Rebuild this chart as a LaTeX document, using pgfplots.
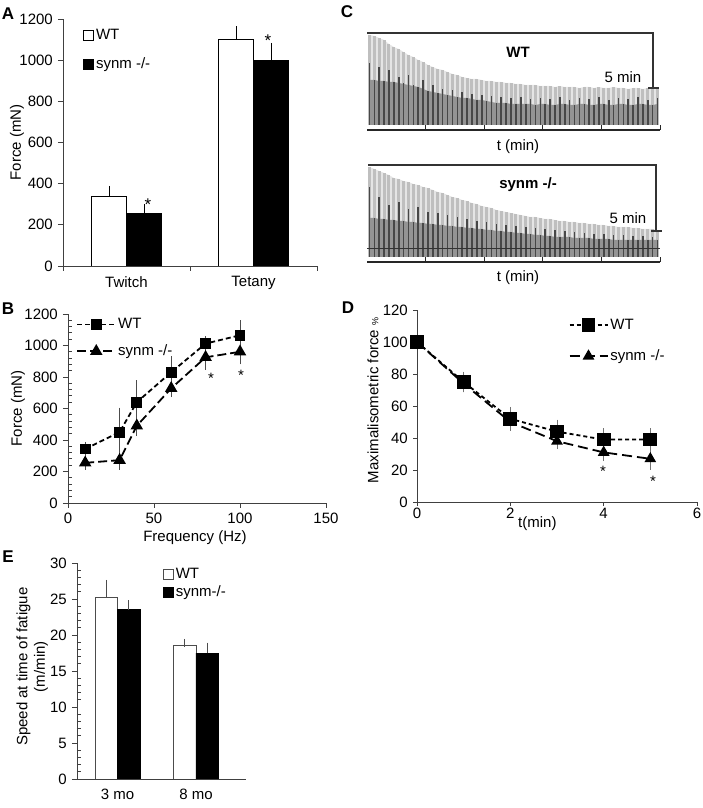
\documentclass[border=0pt]{standalone}
\usepackage{fontspec}
\setmainfont{Liberation Sans}
\usepackage{pgfplots}
\usepackage{pgfplotstable}
\pgfplotsset{compat=1.18}
\newcommand\fs{\fontsize{15}{17.5}\selectfont}

\pgfplotstableread{
k out in base
0 90 62 45
1 89 45 45
2 87 58 44
3 85 44 44
4 81 55 43
5 78 43 43
6 76 48 42
7 73 42 41
8 70 50 40
9 68 40 39
10 65 38 38
11 63 45 36
12 60 34 34
13 58 40 33
14 56 32 32
15 55 36 31
16 53 30 30
17 51 35 29
18 50 28 28
19 48 33 27
20 47 27 27
21 46 31 26
22 46 25 25
23 45 30 25
24 44 24 24
25 44 29 23
26 43 22 22
27 43 28 22
28 42 22 22
29 42 27 21
30 41 21 21
31 41 28 21
32 40 21 21
33 40 26 21
34 40 20 20
35 39 27 21
36 39 21 21
37 39 26 20
38 38 20 20
39 39 28 21
40 38 21 21
41 38 25 20
42 38 20 20
43 37 27 21
44 38 21 21
45 38 26 20
46 37 20 20
47 38 28 21
48 37 21 21
49 37 25 20
50 38 20 20
51 37 27 21
52 37 21 21
53 36 26 20
54 37 20 20
55 37 28 21
56 36 21 21
57 37 25 20
58 37 20 20
59 37 27 21
}\wtdata

\pgfplotstableread{
k out in base
0 90 70 39
1 88 39 39
2 86 60 38
3 84 38 38
4 82 52 37
5 79 37 37
6 78 55 36
7 76 36 36
8 75 48 35
9 73 35 35
10 72 50 34
11 70 34 34
12 69 45 33
13 67 33 33
14 65 44 32
15 64 32 32
16 62 42 31
17 60 31 31
18 59 40 30
19 57 30 30
20 56 38 29
21 54 29 29
22 53 36 28
23 51 28 28
24 50 35 27
25 49 27 27
26 47 33 26
27 46 26 26
28 45 32 25
29 44 25 25
30 43 31 24
31 42 24 24
32 41 30 23
33 40 23 23
34 40 29 22
35 39 22 22
36 38 28 21
37 38 21 21
38 37 27 20
39 36 20 20
40 36 26 20
41 35 20 20
42 35 25 19
43 34 19 19
44 34 24 19
45 33 19 19
46 33 23 18
47 32 18 18
48 32 23 18
49 31 18 18
50 31 22 17
51 30 17 17
52 30 22 17
53 30 17 17
54 29 21 17
55 29 17 17
56 28 21 17
57 28 17 17
58 28 20 17
59 27 17 17
}\kodata

\pgfplotsset{
  every axis/.append style={
    scale only axis, anchor=south west,
    font=\fs,
    /pgf/number format/assume math mode=true,
    /pgf/number format/1000 sep={},
    axis line style={line width=0.9pt, black!75},
    tick style={line width=0.9pt, black!75},
  },
  barleg/.style={legend image code/.code={\draw[##1,line width=0.8pt] (0pt,-5pt) rectangle (10pt,5pt);}},
  lineleg/.style={legend image code/.code={\draw[##1,mark=none] (0pt,0pt) -- (38pt,0pt); \draw[##1,only marks] plot coordinates {(19pt,0pt)};}},
  trace/.style={width=293pt, height=97pt,
    xmin=-0.5, xmax=59.5, ymin=-5, ymax=92,
    axis x line*=bottom, axis y line=none, ytick=\empty,
    xtick={11.5,23.5,35.5,47.5,59.5}, xticklabels={},
    tick align=inside, major tick length=5pt,
    axis line style={line width=1.3pt, black!85},
    tick style={line width=1pt, black!85}, clip=false},
}

\begin{document}
\fs
\begin{tikzpicture}[x=1pt,y=1pt]
\useasboundingbox (0,0) rectangle (702,808);

% ---------------- Panel A
\begin{axis}[at={(63pt,542pt)}, width=254pt, height=247pt,
  ymin=0, ymax=1200, ytick={0,200,...,1200},
  xmin=-0.5, xmax=1.5, xtick={-0.5,0.5,1.5}, x tick label as interval,
  xticklabels={Twitch,Tetany},
  axis x line*=bottom, axis y line*=left,
  tick align=outside, major tick length=5pt,
  ybar=0pt, bar width=35pt,
  ylabel={Force (mN)},
  ylabel style={at={(axis description cs:-0.181,0.5)}, anchor=center},
  barleg,
  legend style={at={(axis description cs:0.067,0.975)}, anchor=north west,
    draw=none, fill=none, row sep=12pt, font=\fs},
  legend cell align=left]
\addplot[fill=white, draw=black, line width=0.8pt,
  error bars/.cd, y dir=plus, y explicit,
  error bar style={line width=0.8pt, black},
  error mark options={mark size=5pt, line width=0.8pt, black}]
  coordinates {(0,340) +- (0,25) (1,1100) +- (0,40)};
\addplot[fill=black, draw=black, line width=0.8pt,
  error bars/.cd, y dir=plus, y explicit,
  error bar style={line width=0.8pt, black},
  error mark options={mark size=5pt, line width=0.8pt, black}]
  coordinates {(0,255) +- (0,22) (1,1000) +- (0,60)};
\legend{WT, synm -/-}
\end{axis}

% ---------------- Panel B
\begin{axis}[at={(68pt,305pt)}, width=258pt, height=189pt,
  xmin=0, xmax=150, xtick={0,50,100,150},
  ymin=0, ymax=1200, ytick={0,200,...,1200}, minor y tick num=4,
  axis x line*=bottom, axis y line*=left,
  tick align=outside, major tick length=5pt, minor tick length=4pt,
  minor y tick style={xshift=4pt},
  xlabel={Frequency (Hz)},
  xlabel style={at={(axis description cs:0.492,-0.185)}, anchor=center},
  ylabel={Force (mN)},
  ylabel style={at={(axis description cs:-0.194,0.5)}, anchor=center},
  lineleg,
  legend style={at={(axis description cs:0.02,1.0)}, anchor=north west,
    draw=none, fill=none, row sep=10pt, font=\fs},
  legend cell align=left]
\addplot[black, line width=1.8pt, dash pattern=on 5pt off 3pt,
  mark=square*, mark size=4.5pt, mark options={solid},
  error bars/.cd, y dir=both, y explicit,
  error bar style={solid, line width=0.8pt, black!70},
  error mark options={solid, mark size=4pt, line width=0.8pt, black!70}]
  coordinates {(10,343) +- (0,20) (30,450) +- (0,130) (40,640) +- (0,115)
               (60,830) +- (0,75) (80,1012) +- (0,20) (100,1065) +- (0,70)};
\addplot[black, line width=1.8pt, dash pattern=on 9pt off 4pt,
  mark=triangle*, mark size=5.5pt, mark options={solid},
  error bars/.cd, y dir=both, y explicit,
  error bar style={solid, line width=0.8pt, black!70},
  error mark options={solid, mark size=4pt, line width=0.8pt, black!70}]
  coordinates {(10,255) +- (0,20) (30,272) +- (0,35) (40,490) +- (0,40)
               (60,728) +- (0,30) (80,925) +- (0,55) (100,960) +- (0,55)};
\legend{WT, synm -/-}
\end{axis}

% ---------------- Panel D
\begin{axis}[at={(417pt,306pt)}, width=280pt, height=192pt,
  xmin=0, xmax=6, xtick={0,2,4,6},
  ymin=0, ymax=120, ytick={0,20,...,120},
  axis x line*=bottom, axis y line*=left,
  tick align=outside, major tick length=4pt,
  xticklabel style={yshift=3pt},
  xlabel={t(min)},
  xlabel style={at={(axis description cs:0.43,-0.112)}, anchor=center},
  ylabel={Maximalisometric force {\small\%}},
  ylabel style={at={(axis description cs:-0.157,0.53)}, anchor=center},
  lineleg,
  legend style={at={(axis description cs:0.53,0.975)}, anchor=north west,
    draw=none, fill=none, row sep=14pt, font=\fs},
  legend cell align=left]
\addplot[black, line width=1.8pt, dash pattern=on 4pt off 3pt,
  mark=square*, mark size=6pt, mark options={solid},
  error bars/.cd, y dir=both, y explicit,
  error bar style={solid, line width=0.8pt, black!55},
  error mark options={solid, mark size=4pt, line width=0.8pt, black!55}]
  coordinates {(0,100) +- (0,0) (1,75) +- (0,4) (2,52) +- (0,5)
               (3,44) +- (0,5) (4,39) +- (0,4.5) (5,39) +- (0,4.5)};
\addplot[black, line width=1.8pt, dash pattern=on 10pt off 5pt,
  mark=triangle*, mark size=5pt, mark options={solid},
  error bars/.cd, y dir=both, y explicit,
  error bar style={solid, line width=0.8pt, black!55},
  error mark options={solid, mark size=4pt, line width=0.8pt, black!55}]
  coordinates {(0,100) +- (0,0) (1,74) +- (0,3) (2,50) +- (0,3)
               (3,38) +- (0,2.5) (4,31) +- (0,3) (5,27) +- (0,4.5)};
\legend{WT, synm -/-}
\end{axis}

% ---------------- Panel E
\begin{axis}[at={(77pt,29pt)}, width=169pt, height=216pt,
  xmin=-0.516, xmax=1.637, xtick={0,1}, xticklabels={3 mo, 8 mo},
  xtick style={draw=none},
  ymin=0, ymax=30, ytick={0,5,...,30}, minor y tick num=4,
  axis x line*=bottom, axis y line*=left,
  tick align=outside, major tick length=5pt, minor tick length=4pt,
  minor y tick style={xshift=4pt},
  ybar=0pt, bar width=22.5pt,
  ylabel={Speed at time of fatigue\\(m/min)},
  ylabel style={align=center, at={(axis description cs:-0.265,0.52)}, anchor=center},
  barleg,
  legend style={at={(axis description cs:0.49,0.995)}, anchor=north west,
    draw=none, fill=none, row sep=1pt, font=\fs},
  legend cell align=left]
\addplot[fill=white, draw=black!70, line width=0.8pt,
  error bars/.cd, y dir=plus, y explicit,
  error bar style={line width=0.8pt, black!70},
  error mark options={mark size=4pt, line width=0.8pt, black!70}]
  coordinates {(0,25.2) +- (0,1.9) (1,18.5) +- (0,0.4)};
\addplot[fill=black, draw=black, line width=0.8pt,
  error bars/.cd, y dir=plus, y explicit,
  error bar style={line width=0.8pt, black!70},
  error mark options={mark size=4pt, line width=0.8pt, black!70}]
  coordinates {(0,23.5) +- (0,0.8) (1,17.5) +- (0,0.9)};
\legend{WT, synm-/-}
\end{axis}

% ---------------- Panel C (traces)
\begin{axis}[at={(367pt,678pt)}, trace]
\addplot[fill=gray!20, draw=none] table[x=k,y=out] {\wtdata} \closedcycle;
\addplot[ycomb, gray!50, line width=3pt] table[x=k,y=out] {\wtdata};
\addplot[fill=black!42, draw=none] table[x=k,y=base] {\wtdata} \closedcycle;
\addplot[ycomb, black!72, line width=1.6pt] table[x=k,y=in] {\wtdata};
\end{axis}

\begin{axis}[at={(367pt,546pt)}, trace]
\addplot[fill=gray!20, draw=none] table[x=k,y=out] {\kodata} \closedcycle;
\addplot[ycomb, gray!50, line width=3pt] table[x=k,y=out] {\kodata};
\addplot[fill=black!42, draw=none] table[x=k,y=base] {\kodata} \closedcycle;
\addplot[ycomb, black!72, line width=1.6pt] table[x=k,y=in] {\kodata};
\addplot[black!80, line width=0.6pt] coordinates {(-0.5,9) (59.5,9)};
\end{axis}

% frames of C
\draw[black!80, line width=1.2pt] (367,775) -- (653,775) -- (653,720);
\draw[black!80, line width=1.2pt] (648,720) -- (659,720);
\draw[black!80, line width=1.2pt] (368,643) -- (656,643) -- (656,577);
\draw[black!80, line width=1.2pt] (651,577) -- (662,577);
\node[font=\bfseries\fs] at (518,756) {WT};
\node[font=\bfseries\fs] at (528,623) {synm -/-};
\node at (623,731) {5 min};
\node at (628,590) {5 min};
\node at (518,661) {t (min)};
\node at (518,530) {t (min)};

% asterisks
\node[font=\fontsize{17}{17}\selectfont, yshift=-3pt] at (148,606) {*};
\node[font=\fontsize{17}{17}\selectfont, yshift=-3pt] at (268,770) {*};
\node[yshift=-3pt] at (211,433) {*};
\node[yshift=-3pt] at (241,436) {*};
\node[yshift=-3pt] at (603,340) {*};
\node[yshift=-3pt] at (653,330) {*};

% panel letters
\node[font=\bfseries\fontsize{17}{17}\selectfont] at (8,794) {A};
\node[font=\bfseries\fontsize{17}{17}\selectfont] at (8,499) {B};
\node[font=\bfseries\fontsize{17}{17}\selectfont] at (347,796) {C};
\node[font=\bfseries\fontsize{17}{17}\selectfont] at (348,500) {D};
\node[font=\bfseries\fontsize{17}{17}\selectfont] at (8,251) {E};
\end{tikzpicture}
\end{document}
